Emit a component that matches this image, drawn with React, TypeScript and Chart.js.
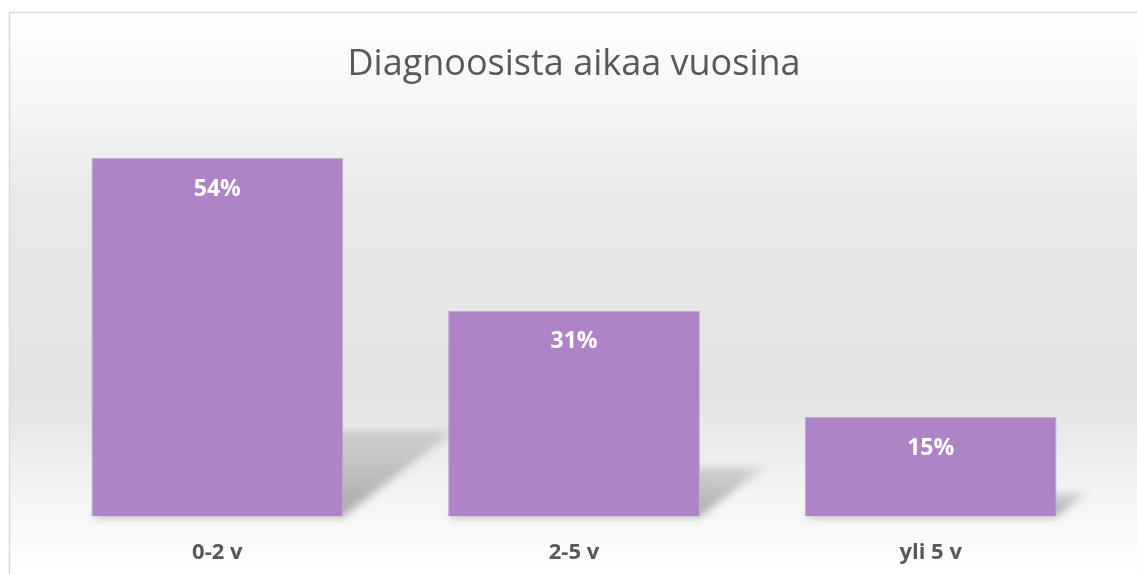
import React, { useEffect, useRef } from "react";
import { Chart, registerables } from "chart.js";

Chart.register(...registerables);

const categories = ["0-2 v", "2-5 v", "yli 5 v"];
const values = [54, 31, 15];
const valueLabels = ["54%", "31%", "15%"];
const titleText = "Diagnoosista aikaa vuosina";

const BAR = "#AE84C6";
const TEXT = "#595959";

const bgPlugin = {
  id: "bgFrame",
  beforeDraw(chart: any) {
    const ctx = chart.ctx;
    const W = chart.width;
    const H = chart.height;
    ctx.save();
    ctx.fillStyle = "#ffffff";
    ctx.fillRect(0, 0, W, H);
    const g = ctx.createLinearGradient(0, 13, 0, H);
    g.addColorStop(0, "#ffffff");
    g.addColorStop(0.15, "#f6f6f6");
    g.addColorStop(0.33, "#e9e9e9");
    g.addColorStop(0.68, "#e3e3e3");
    g.addColorStop(0.88, "#f6f6f6");
    g.addColorStop(1, "#ffffff");
    ctx.fillStyle = g;
    ctx.fillRect(10, 13, W, H);
    ctx.strokeStyle = "#d9d9d9";
    ctx.lineWidth = 1.5;
    ctx.strokeRect(9.5, 12.5, W + 20, H + 20);
    ctx.restore();
  },
  beforeDatasetsDraw(chart: any) {
    const ctx = chart.ctx;
    const meta = chart.getDatasetMeta(0);
    ctx.save();
    ctx.filter = "blur(4px)";
    meta.data.forEach((bar: any) => {
      const { x, y, base, width } = bar.getProps(["x", "y", "base", "width"], true);
      const h = base - y;
      const dy = h * 0.24;
      const dx = dy * 1.3;
      const l = x - width / 2;
      const r = x + width / 2;
      const g = ctx.createLinearGradient(0, base, 0, base - dy);
      g.addColorStop(0, "rgba(140,140,140,0.75)");
      g.addColorStop(1, "rgba(165,165,165,0.4)");
      ctx.fillStyle = g;
      ctx.beginPath();
      ctx.moveTo(l, base);
      ctx.lineTo(r, base);
      ctx.lineTo(r + dx, base - dy);
      ctx.lineTo(l + dx, base - dy);
      ctx.closePath();
      ctx.fill();
    });
    ctx.restore();
  },
  afterDatasetsDraw(chart: any) {
    const ctx = chart.ctx;
    const meta = chart.getDatasetMeta(0);
    ctx.save();
    ctx.fillStyle = "#ffffff";
    ctx.font = "bold 23px 'Open Sans'";
    ctx.textAlign = "center";
    ctx.textBaseline = "middle";
    meta.data.forEach((bar: any, i: number) => {
      ctx.fillText(valueLabels[i], bar.x, bar.y + 31);
    });
    ctx.restore();
  },
};

export default function App() {
  const ref = useRef<HTMLCanvasElement>(null);
  useEffect(() => {
    if (!ref.current) return;
    const chart = new Chart(ref.current, {
      type: "bar",
      data: {
        labels: categories,
        datasets: [
          {
            data: values,
            backgroundColor: BAR,
            borderColor: "#c4a8d6",
            borderWidth: 1,
            categoryPercentage: 0.706,
            barPercentage: 1,
          },
        ],
      },
      plugins: [bgPlugin],
      options: {
        responsive: false,
        animation: false,
        layout: { padding: { left: 39, right: 28, bottom: -15, top: 0 } },
        plugins: {
          legend: { display: false },
          tooltip: { enabled: false },
          title: {
            display: true,
            text: titleText,
            color: TEXT,
            font: { family: "'Open Sans'", size: 36, weight: "normal" },
            padding: { top: 43, bottom: 32 },
          },
        },
        scales: {
          x: {
            grid: { display: false, drawTicks: false },
            border: { display: false },
            ticks: {
              color: TEXT,
              font: { family: "'Open Sans'", size: 22, weight: "bold" },
              padding: 23,
            },
          },
          y: {
            display: false,
            min: 0,
            max: 60,
          },
        },
      },
    });
    return () => chart.destroy();
  }, []);
  return (
    <div style={{ position: "fixed", left: 0, top: 0, width: 1137, height: 574 }}>
      <canvas ref={ref} width={1137} height={574} style={{ display: "block" }} />
    </div>
  );
}
